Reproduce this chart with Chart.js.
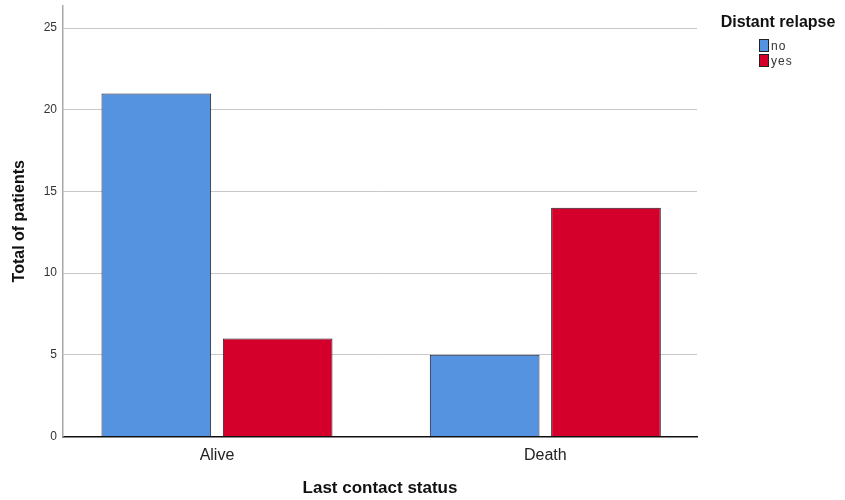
<!DOCTYPE html>
<html>
<head>
<meta charset="utf-8">
<script src="https://cdn.jsdelivr.net/npm/chart.js@4/dist/chart.umd.min.js"></script>
<style>
  body { margin: 0; background: #fff; font-family: 'Liberation Sans', Arial, sans-serif; }
  #wrap { position: relative; width: 845px; height: 500px; }
  #legend { position: absolute; left: 712px; top: 13px; width: 132px; color: #111; }
  #legend .ttl { font-weight: bold; font-size: 16px; text-align: center; margin-bottom: 8px; }
  #legend .item { position: relative; height: 15px; margin-left: 47px; font-size: 12px; color: #333; letter-spacing: 1px; }
  #legend .item span.box { position: absolute; left: 0; top: 0; width: 10px; height: 13px; border: 1px solid #222; box-sizing: border-box; }
  #legend .item span.lbl { position: absolute; left: 12px; top: 0; }
</style>
</head>
<body>
<div id="wrap">
  <canvas id="chart"></canvas>
  <div id="legend"></div>
</div>
<script>
const categories = ['Alive', 'Death'];
const seriesNames = ['no', 'yes'];
const noValues = [21, 5];
const yesValues = [6, 14];
const yTicks = [0, 5, 10, 15, 20, 25];
const colors = ['#5593e0', '#d4002b'];

const font = "'Liberation Sans', Arial, sans-serif";

const ctx = document.getElementById('chart').getContext('2d');
const chart = new Chart(ctx, {
    type: 'bar',
    data: {
        datasets: [noValues, yesValues].map((vals, k) => ({
            label: seriesNames[k],
            data: vals.map((v, i) => ({ x: i, y: v })),
            backgroundColor: colors[k],
            borderColor: '#1c1c28',
            borderWidth: 1,
            categoryPercentage: 0.739,
            barPercentage: 0.904
        }))
    },
    options: {
        responsive: true,
        maintainAspectRatio: false,
        animation: false,
        layout: { padding: { top: 6, right: 148, left: 0, bottom: 0 } },
        plugins: { legend: { display: false }, tooltip: { enabled: false } },
        scales: {
            x: {
                type: 'linear',
                offset: false,
                min: -0.469,
                max: 1.462,
                grid: { display: false },
                border: { color: '#111', width: 1.5 },
                afterBuildTicks: s => { s.ticks = categories.map((c, i) => ({ value: i })); },
                afterFit: s => { s.height = 63.5; s.paddingLeft = 0; s.paddingRight = 0; },
                ticks: {
                    callback: v => categories[v],
                    color: '#222',
                    font: { family: font, size: 16 },
                    padding: 1,
                    maxRotation: 0
                },
                title: {
                    display: true,
                    text: 'Last contact status',
                    color: '#111',
                    font: { family: font, size: 17, weight: 'bold' },
                    padding: { bottom: 1 }
                }
            },
            y: {
                min: 0,
                max: 26.35,
                afterBuildTicks: s => { s.ticks = yTicks.map(v => ({ value: v })); },
                afterFit: s => { s.width = 63; s.paddingTop = 0; s.paddingBottom = 0; },
                grid: { color: '#c8c8c8', drawTicks: false, lineWidth: 1 },
                border: { color: '#a8a8a8', width: 1.5 },
                ticks: {
                    color: '#333',
                    font: { family: font, size: 12 },
                    padding: 6
                },
                title: {
                    display: true,
                    text: 'Total of patients',
                    color: '#111',
                    font: { family: font, size: 16, weight: 'bold' },
                    padding: { top: 10 }
                }
            }
        }
    }
});

// html legend built from the datasets
const leg = document.getElementById('legend');
leg.innerHTML = '<div class="ttl">Distant relapse</div>' +
    chart.data.datasets.map(d =>
        '<div class="item"><span class="box" style="background:' + d.backgroundColor + '"></span><span class="lbl">' + d.label + '</span></div>'
    ).join('');
</script>
</body>
</html>
